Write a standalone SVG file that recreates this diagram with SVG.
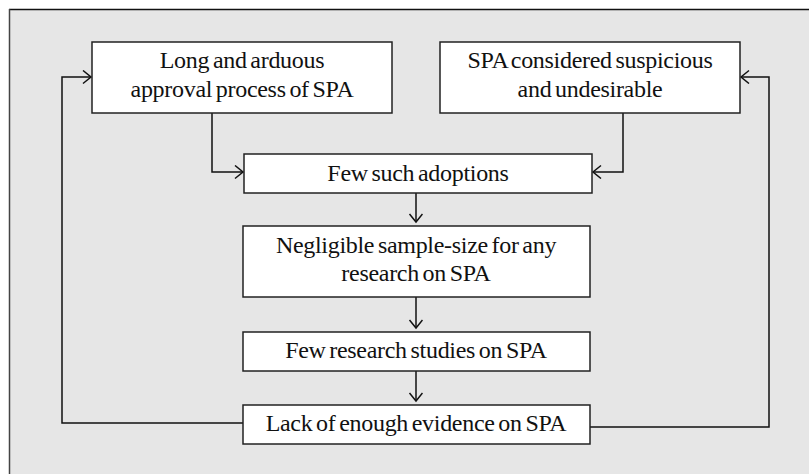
<svg xmlns="http://www.w3.org/2000/svg" width="809" height="474" viewBox="0 0 809 474">
<defs>
<style>
.box{fill:#ffffff;stroke:#222;stroke-width:1.5}
.t{font-family:"Liberation Serif","Times New Roman",serif;font-size:24px;fill:#111;text-anchor:middle;letter-spacing:-0.3px;word-spacing:-2px}
.c{fill:none;stroke:#111;stroke-width:1.5}
</style>
<marker id="ah" markerUnits="userSpaceOnUse" markerWidth="14" markerHeight="16" refX="9" refY="7" orient="auto">
<path d="M1,0.5 L9,7 L1,13.5" fill="none" stroke="#111" stroke-width="1.5"/>
</marker>
</defs>
<rect x="0" y="0" width="809" height="474" fill="#ffffff"/>
<rect x="9" y="9" width="820" height="480" fill="#e6e6e6"/>
<line x1="9" y1="9.5" x2="809" y2="9.5" stroke="#111" stroke-width="1.5"/>
<line x1="9.5" y1="9" x2="9.5" y2="474" stroke="#444" stroke-width="1.5"/>
<g id="connectors">
<path class="c" d="M212,113 V172 H243" marker-end="url(#ah)"/>
<path class="c" d="M623,113 V172 H593" marker-end="url(#ah)"/>
<path class="c" d="M416,193 V222" marker-end="url(#ah)"/>
<path class="c" d="M416,297 V328" marker-end="url(#ah)"/>
<path class="c" d="M416,371 V401" marker-end="url(#ah)"/>
<path class="c" d="M243,423 H62 V77 H91" marker-end="url(#ah)"/>
<path class="c" d="M590,427 H769 V77 H741" marker-end="url(#ah)"/>
</g>
<g id="n1">
<rect class="box" x="92" y="42" width="300" height="71"/>
<text class="t" x="242" y="68">Long and arduous</text>
<text class="t" x="242" y="97">approval process of SPA</text>
</g>
<g id="n2">
<rect class="box" x="440" y="42" width="300" height="71"/>
<text class="t" x="590" y="68">SPA considered suspicious</text>
<text class="t" x="590" y="97">and undesirable</text>
</g>
<g id="n3">
<rect class="box" x="244" y="154" width="348" height="39"/>
<text class="t" x="418" y="181">Few such adoptions</text>
</g>
<g id="n4">
<rect class="box" x="243" y="226" width="347" height="71"/>
<text class="t" x="416" y="253">Negligible sample-size for any</text>
<text class="t" x="416" y="281">research on SPA</text>
</g>
<g id="n5">
<rect class="box" x="243" y="332" width="347" height="39"/>
<text class="t" x="416" y="358">Few research studies on SPA</text>
</g>
<g id="n6">
<rect class="box" x="243" y="405" width="347" height="39"/>
<text class="t" x="416" y="431">Lack of enough evidence on SPA</text>
</g>
</svg>
